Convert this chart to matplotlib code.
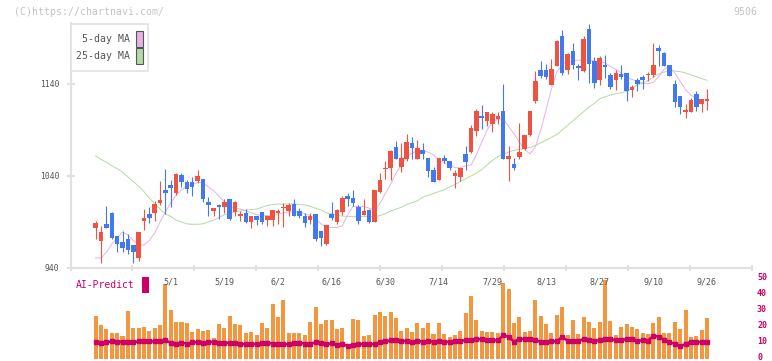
import numpy as np
import matplotlib
matplotlib.use('Agg')
import matplotlib.pyplot as plt
from matplotlib.patches import Rectangle
from matplotlib.transforms import blended_transform_factory, ScaledTranslation

# daily candles, 4/10 .. 9/26 (115 trading days)
opens = [984, 969, 988, 1000, 975, 968, 972, 965, 951, 991,
         999, 1000, 1011, 1025, 1030, 1021, 1041, 1034, 1034, 1035,
         1037, 1012, 1002, 1009, 1006, 1015, 1001, 997, 1000, 990,
         996, 1001, 992, 992, 1000, 1005, 1002, 1010, 1002, 997,
         992, 999, 980, 966, 999, 990, 1001, 1018, 1016, 1006,
         998, 1003, 990, 1023, 1048, 1049, 1072, 1050, 1059, 1076,
         1059, 1068, 1060, 1047, 1036, 1060, 1056, 1040, 1039, 1064,
         1066, 1089, 1105, 1100, 1097, 1102, 1111, 1059, 1053, 1061,
         1069, 1085, 1121, 1155, 1155, 1139, 1160, 1192, 1155, 1176,
         1160, 1154, 1200, 1165, 1144, 1161, 1150, 1144, 1151, 1152,
         1134, 1144, 1148, 1150, 1150, 1179, 1174, 1161, 1140, 1127,
         1110, 1110, 1129, 1118, 1122]
highs = [991, 986, 1007, 1001, 975, 980, 977, 965, 979, 1004,
         1006, 1013, 1035, 1048, 1036, 1043, 1043, 1036, 1039, 1046,
         1037, 1017, 1005, 1010, 1015, 1015, 1013, 1002, 1004, 997,
         997, 1001, 997, 1003, 1004, 1011, 1011, 1015, 1005, 1000,
         1000, 999, 980, 987, 1012, 1004, 1018, 1021, 1025, 1008,
         1015, 1004, 1025, 1043, 1056, 1068, 1078, 1076, 1086, 1082,
         1079, 1076, 1060, 1050, 1060, 1063, 1056, 1046, 1049, 1073,
         1095, 1113, 1117, 1110, 1110, 1110, 1140, 1073, 1060, 1098,
         1085, 1111, 1154, 1165, 1162, 1167, 1188, 1199, 1174, 1185,
         1162, 1192, 1205, 1169, 1170, 1172, 1152, 1155, 1161, 1152,
         1139, 1146, 1150, 1153, 1185, 1182, 1175, 1161, 1144, 1127,
         1118, 1125, 1132, 1124, 1135]
lows = [972, 945, 983, 972, 957, 957, 955, 945, 948, 981,
        989, 991, 1008, 999, 1006, 1019, 1028, 1021, 1018, 1032,
        1012, 996, 996, 993, 1000, 992, 997, 991, 989, 984,
        987, 988, 986, 986, 988, 985, 997, 996, 994, 985,
        988, 969, 964, 965, 992, 988, 998, 1007, 1007, 988,
        998, 989, 990, 1021, 1037, 1036, 1058, 1044, 1056, 1058,
        1058, 1059, 1039, 1033, 1036, 1054, 1047, 1027, 1035, 1046,
        1065, 1083, 1091, 1094, 1088, 1097, 1059, 1035, 1046, 1059,
        1068, 1084, 1119, 1146, 1145, 1139, 1160, 1150, 1151, 1156,
        1144, 1153, 1141, 1136, 1139, 1147, 1135, 1134, 1145, 1121,
        1126, 1132, 1135, 1143, 1148, 1160, 1160, 1149, 1115, 1107,
        1103, 1110, 1111, 1110, 1112]
closes = [989, 979, 984, 973, 966, 962, 960, 957, 979, 994,
          994, 1010, 1014, 1022, 1027, 1042, 1034, 1026, 1028, 1040,
          1015, 1009, 1005, 1006, 1012, 993, 1012, 998, 990, 996,
          992, 990, 997, 1003, 1002, 1006, 1008, 996, 997, 989,
          996, 971, 973, 987, 994, 1003, 1016, 1015, 1011, 991,
          1002, 990, 1025, 1036, 1049, 1067, 1059, 1060, 1077, 1070,
          1070, 1064, 1045, 1033, 1060, 1056, 1049, 1043, 1049, 1055,
          1092, 1111, 1103, 1110, 1107, 1105, 1059, 1062, 1049, 1066,
          1085, 1111, 1143, 1149, 1148, 1156, 1187, 1152, 1173, 1161,
          1157, 1189, 1162, 1141, 1168, 1158, 1137, 1152, 1148, 1132,
          1137, 1140, 1144, 1151, 1161, 1176, 1160, 1149, 1120, 1115,
          1111, 1123, 1115, 1124, 1124]

ma5 = [951, 951, 957, 966, 973, 979, 976, 970, 965, 965,
       970, 978, 990, 1001, 1011, 1019, 1025, 1029, 1031, 1033,
       1033, 1028, 1024, 1018, 1012, 1007, 1005, 1004, 1002, 1000,
       998, 997, 997, 997, 998, 1000, 1001, 1001, 1001, 999,
       997, 993, 988, 985, 984, 984, 986, 998, 1007, 1007,
       1007, 1005, 1003, 1010, 1021, 1031, 1043, 1052, 1061, 1065,
       1067, 1067, 1066, 1063, 1057, 1054, 1052, 1049, 1049, 1051,
       1052, 1063, 1077, 1090, 1099, 1102, 1102, 1094, 1086, 1077,
       1069, 1064, 1072, 1090, 1112, 1135, 1153, 1162, 1164, 1165,
       1166, 1166, 1166, 1165, 1164, 1163, 1159, 1156, 1152, 1147,
       1145, 1143, 1141, 1140, 1142, 1148, 1156, 1159, 1152, 1143,
       1134, 1128, 1124, 1123, 1122]
ma25 = [1062, 1058, 1055, 1051, 1048, 1044, 1039, 1034, 1029, 1023,
        1016, 1010, 1004, 999, 996, 992, 990, 988, 987.5, 987.5,
        988, 990, 992, 995, 998, 999.5, 1001, 1002, 1003, 1003.5,
        1004, 1006, 1008, 1009, 1009.5, 1009.5, 1009.5, 1009.5, 1009, 1008.5,
        1007, 1005, 1003, 1000, 999, 997, 996.5, 996, 996, 996,
        996, 996, 996, 997, 999, 1002, 1004, 1006, 1009, 1011,
        1013, 1017, 1019, 1021, 1023, 1025, 1028, 1031, 1034, 1037,
        1040, 1043, 1047, 1052, 1057, 1061, 1064, 1066, 1068, 1069,
        1070, 1071, 1073, 1076, 1079, 1082, 1085, 1090, 1095, 1100,
        1105, 1110, 1115, 1119, 1124, 1126, 1128, 1129.5, 1130.5, 1132,
        1135, 1139, 1141, 1144, 1147, 1151, 1153, 1154.5, 1154, 1153.5,
        1152, 1150, 1148, 1146, 1144]

volume = [26.7, 21.0, 18.5, 16.3, 16.3, 14.2, 29.8, 19.2, 19.2, 19.8,
          17.3, 19.4, 21.0, 46.7, 30.4, 22.9, 22.9, 22.3, 16.7, 18.5,
          17.3, 17.9, 12.9, 21.7, 19.2, 26.7, 21.7, 21.0, 16.3, 16.7,
          14.8, 22.3, 19.2, 34.2, 26.0, 36.7, 16.0, 16.0, 16.0, 14.8,
          22.9, 32.3, 21.7, 24.2, 24.2, 18.5, 19.2, 9.2, 24.8, 24.2,
          14.2, 14.8, 27.3, 29.2, 26.7, 29.2, 25.4, 17.3, 19.2, 16.7,
          22.3, 19.2, 22.3, 15.4, 22.3, 15.4, 13.5, 15.0, 17.3, 28.5,
          39.2, 24.2, 17.3, 16.7, 16.7, 16.0, 47.3, 43.5, 22.3, 26.0,
          16.7, 17.0, 36.7, 26.7, 21.7, 16.0, 27.3, 32.3, 14.8, 24.2,
          15.4, 26.0, 22.9, 19.2, 22.9, 49.0, 23.5, 14.8, 19.8, 21.7,
          19.8, 18.5, 16.0, 15.4, 22.3, 26.0, 16.0, 16.0, 22.9, 18.5,
          30.4, 13.5, 14.2, 17.9, 25.4]
ai_predict = [9.6, 9.2, 9.6, 10.2, 10.0, 10.0, 10.0, 9.6, 10.2, 10.2,
              10.2, 10.2, 10.2, 10.8, 9.4, 8.8, 9.4, 8.8, 9.6, 9.6,
              9.4, 9.8, 9.8, 9.4, 9.2, 9.2, 9.2, 8.5, 8.5, 8.5,
              8.5, 9.2, 9.2, 8.8, 8.3, 8.5, 8.3, 9.2, 9.2, 8.8,
              8.8, 9.6, 9.0, 8.3, 9.0, 7.9, 8.3, 7.5, 7.9, 8.3,
              8.5, 8.5, 8.5, 9.6, 10.2, 10.8, 10.8, 10.4, 10.4, 10.0,
              10.6, 10.0, 10.2, 10.0, 10.4, 10.0, 9.8, 10.2, 10.6, 10.8,
              11.0, 11.5, 11.5, 11.0, 10.8, 10.8, 14.0, 13.1, 10.0, 11.7,
              11.7, 11.7, 11.0, 10.0, 9.8, 10.4, 10.2, 13.1, 10.6, 10.4,
              10.4, 11.7, 11.0, 10.4, 11.0, 11.9, 11.5, 11.0, 11.2, 11.5,
              11.7, 10.6, 10.8, 10.6, 13.8, 13.1, 11.0, 10.0, 8.5, 7.3,
              8.5, 10.0, 9.8, 9.8, 9.8]

date_labels = ['5/1', '5/19', '6/2', '6/16', '6/30', '7/14',
               '7/29', '8/13', '8/27', '9/10', '9/26']
date_index = [14, 24, 34, 44, 54, 64, 74, 84, 94, 104, 114]
price_ticks = [940, 1040, 1140]
vol_ticks = [0, 10, 20, 30, 40, 50]

RED = '#f05242'
BLUE = '#4379ee'
PINK = '#e6b2e6'
GREEN = '#b2daa6'
AI = '#cc0066'
ORANGE = '#f29640'
GRID = '#e0e0e0'
MONO = 'DejaVu Sans Mono'

W, H = 772, 361
fig = plt.figure(figsize=(W / 100, H / 100), dpi=100)


def fx(px):
    return px / W


def fy(py):
    return 1 - py / H


x = np.arange(len(closes))
o = np.array(opens, float)
c = np.array(closes, float)
up = c >= o
col = np.where(up, RED, BLUE)
xlim = (-4.7, 122.4)

# price panel
ax = fig.add_axes([fx(70.5), fy(268), fx(752) - fx(70.5), fy(23) - fy(268)])
ax.plot(x, ma25, color=GREEN, lw=0.7, zorder=1)
ax.plot(x, ma5, color=PINK, lw=0.7, zorder=1)
ax.vlines(x, lows, highs, colors=col, lw=0.8, zorder=2)
body = np.maximum(np.abs(c - o), 1.2)
ax.bar(x, body, bottom=np.minimum(o, c), width=0.85, color=col, zorder=3)
ax.set_xlim(*xlim)
ax.set_ylim(940, 1206.3)
for s in ['top', 'right']:
    ax.spines[s].set_visible(False)
for s in ['left', 'bottom']:
    ax.spines[s].set_color(GRID)
    ax.spines[s].set_linewidth(1.5)
ax.set_xticks(np.linspace(xlim[0], xlim[1], 12))
ax.set_xticklabels([])
ax.tick_params(axis='x', direction='inout', length=4, width=1.5, color=GRID)
ax.set_yticks(price_ticks)
ax.set_yticklabels([str(t) for t in price_ticks], family=MONO, fontsize=5.8, color='#555555')
ax.tick_params(axis='y', direction='inout', length=6, width=1.5, color=GRID, pad=5)

# volume / AI-Predict panel
axv = fig.add_axes([fx(70.5), fy(357.7), fx(752) - fx(70.5), fy(269.7) - fy(357.7)])
axv.bar(x, volume, width=0.75, bottom=-0.6, color=ORANGE, zorder=1)
axv.plot(x, ai_predict, color=AI, lw=1.8, marker='s', ms=2.2, zorder=2)
axv.set_xlim(*xlim)
axv.set_ylim(0, 55)
for s in axv.spines.values():
    s.set_visible(False)
axv.set_xticks([])
axv.yaxis.tick_right()
axv.set_yticks(vol_ticks)
axv.set_yticklabels([str(t) for t in vol_ticks], family=MONO, fontsize=6,
                    color=AI, fontweight='bold')
axv.tick_params(axis='y', length=0, pad=3.6)
# nudge the right-hand labels up a touch so "0" stays inside the canvas
up_shift = ScaledTranslation(0, 1.5 / 100, fig.dpi_scale_trans)
for lab in axv.get_yticklabels():
    lab.set_transform(lab.get_transform() + up_shift)
axv.patch.set_alpha(0)
for b in axv.patches:
    b.set_clip_on(False)

tr = blended_transform_factory(axv.transData, axv.transAxes)
for i, lab in zip(date_index, date_labels):
    axv.text(i, 0.86, lab, transform=tr, ha='center', va='center',
             family=MONO, fontsize=6, color='#555555')

# texts and legend
fig.text(fx(14), fy(12), '(C)https://chartnavi.com/', family=MONO, fontsize=7.1,
         color='#c4c4c4', va='center', ha='left')
fig.text(fx(757), fy(12), '9506', family=MONO, fontsize=7.1, color='#c4c4c4',
         va='center', ha='right')
fig.text(fx(76), fy(285), 'AI-Predict', family=MONO, fontsize=7, color=AI,
         va='center', ha='left')
fig.add_artist(Rectangle((fx(142.3), fy(292.7)), fx(6.4), 15.4 / H,
                         transform=fig.transFigure, color=AI, lw=0))

fig.add_artist(Rectangle((fx(70.5), fy(71)), fx(77.5), 47 / H, transform=fig.transFigure,
                         facecolor='white', edgecolor=GRID, lw=1.2, zorder=5))
for ty, lab, colr in [(39, '5-day MA', PINK), (56, '25-day MA', GREEN)]:
    fig.text(fx(130), fy(ty), lab, family=MONO, fontsize=7.1, color='#555555',
             va='center', ha='right', zorder=6)
    fig.add_artist(Rectangle((fx(136.3), fy(ty + 7.5)), fx(6.4), 15 / H,
                             transform=fig.transFigure, facecolor=colr,
                             edgecolor='#555555', lw=0.8, zorder=6))

fig.savefig('out.png', dpi=100)
